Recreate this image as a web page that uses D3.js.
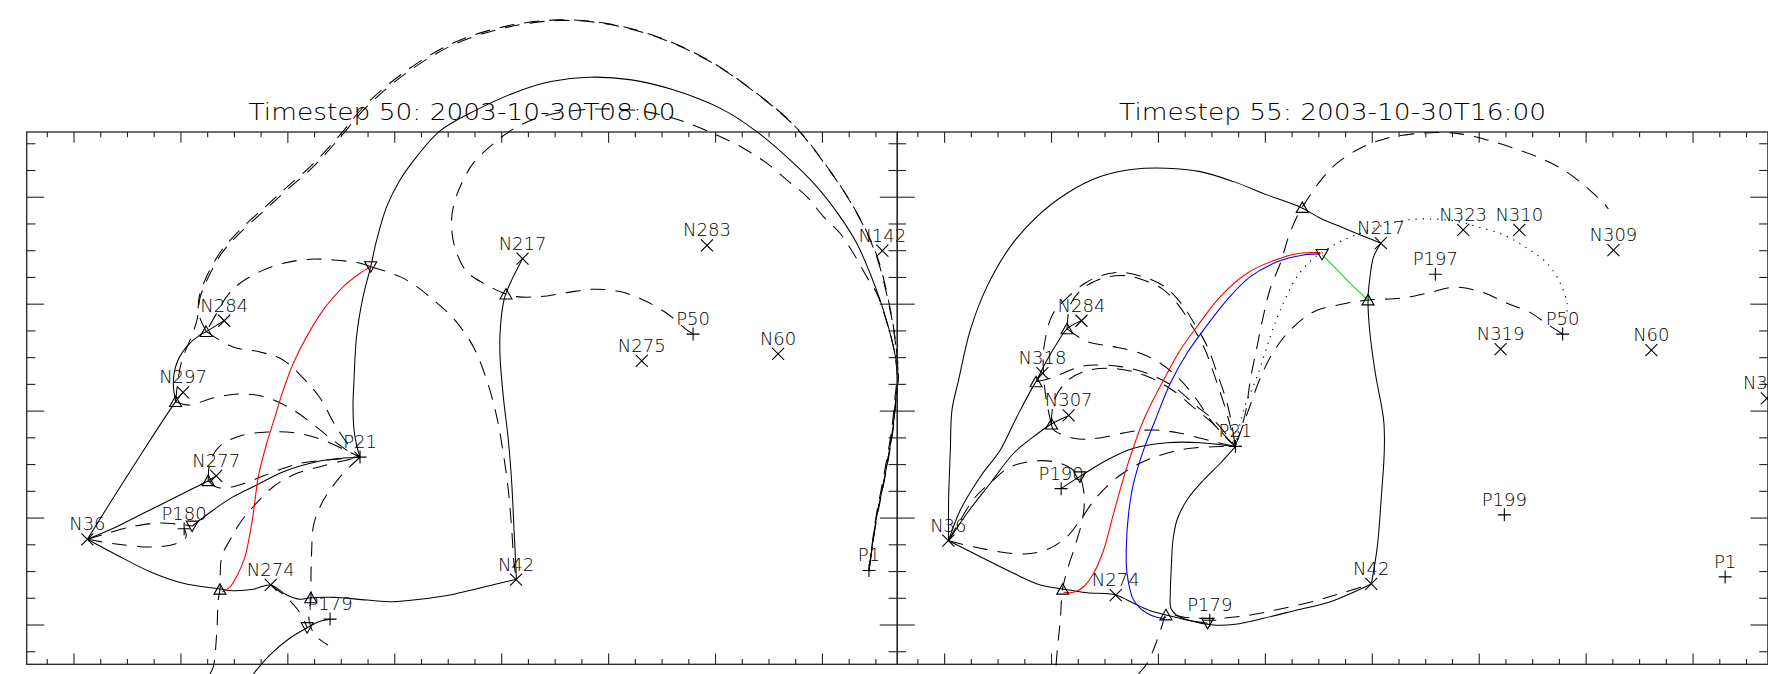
<!DOCTYPE html>
<html>
<head>
<meta charset="utf-8">
<script src="https://cdn.jsdelivr.net/npm/d3@7"></script>
<style>
  html, body { margin: 0; padding: 0; background: #fff; }
  svg { display: block; }
  text { font-family: "DejaVu Sans", "Liberation Sans", sans-serif; font-weight: 200; fill: #000; }
</style>
</head>
<body>
<svg id="chart" width="1768" height="674"></svg>
<script>
// ---- plot coordinates (Mm) ----
const xDomain = [-8.85, 154.0];
const yDomain = [-7.35, 92.2];
const xTickValues = d3.range(-5, 155, 5);
const yTickValues = d3.range(-5, 95, 5);

const titles = ["Timestep 50: 2003-10-30T08:00", "Timestep 55: 2003-10-30T16:00"];

// ---- timestep 50 ----
const sources50 = [
  ["N284", 28.1, 56.9], ["N297", 20.4, 43.5], ["N277", 26.6, 27.9], ["P180", 20.6, 18.0],
  ["N36", 2.5, 16.0], ["P21", 53.5, 31.4], ["N274", 36.8, 7.5], ["P179", 47.9, 1.1],
  ["N42", 82.7, 8.5], ["N217", 83.9, 68.5], ["N283", 118.4, 71.0], ["N142", 151.2, 70.0],
  ["P50", 115.8, 54.4], ["N275", 106.2, 49.4], ["N60", 131.7, 50.7], ["P1", 148.7, 10.2]
];
const nullsUp50 = [[24.7, 54.9], [19.0, 41.8], [25.1, 27.0], [27.3, 6.7], [44.3, 5.1], [80.8, 61.9]];
const nullsDown50 = [[22.1, 18.5], [43.6, -0.5], [55.5, 67.0]];

const lines50 = [
  { kind: "spine", pts: [[19.02,41.77],[19.45,45.83],[20.2,49.57],[21.7,53.31],[23.01,57.05],[23.57,61.17],[24.88,64.54],[27.68,69.59],[31.05,73.33],[35.73,77.63],[39.84,81.37],[44.71,85.67],[49.38,90.72],[54.75,96.95],[62.53,103.5],[70.9,108.49],[80.3,111.62],[90.29,113.04],[99.65,112.42],[109.62,109.75],[118.97,105.37],[126.77,100.08],[134.55,93.53],[140.8,85.73],[146.09,77.63],[150.02,69.21],[152.64,58.92],[153.58,53.31],[154.14,46.77],[153.76,42.71],[153.13,36.48],[151.52,27.12],[150.02,19.64],[148.71,10.16]] },
  { kind: "spine", pts: [[24.75,54.87],[23.38,57.99],[23.38,61.17],[24.6,64.72],[27.4,69.77],[30.77,73.61],[35.45,77.91],[39.56,81.65],[44.43,85.95],[49.2,91.0],[54.53,97.27],[62.38,103.82],[70.8,108.78],[80.25,111.86],[90.29,113.17],[99.65,112.5],[109.62,109.85],[118.97,105.45],[126.77,100.15],[134.55,93.6],[140.8,85.8],[146.09,77.7],[150.1,69.3],[152.7,59.0],[153.62,53.3],[154.2,46.77],[153.8,42.71],[153.2,36.48],[151.6,27.12],[150.1,19.64],[148.71,10.16]] },
  { kind: "separator", pts: [[53.5,31.37],[52.94,33.3],[52.38,36.48],[52.19,41.15],[52.38,45.83],[52.84,53.87],[54.06,61.36],[55.5,67.02],[56.62,72.02],[58.49,78.25],[60.98,83.24],[64.11,87.6],[68.46,92.41],[75.29,96.34],[82.79,99.7],[89.23,101.63],[96.52,102.45],[104.29,101.95],[112.1,100.08],[121.46,96.34],[127.7,92.28],[133.93,86.98],[138.93,81.99],[143.29,76.38],[146.41,71.4],[148.9,65.79],[150.77,60.79],[152.32,55.8],[153.39,51.44],[154.14,46.77],[153.76,42.71],[153.13,36.48],[151.52,27.12],[150.02,19.64],[148.71,10.16]] },
  { kind: "spine", pts: [[115.79,54.43],[114.61,55.18],[110.87,58.31],[106.49,60.79],[102.13,62.35],[97.14,62.8],[92.16,62.16],[87.17,61.41],[82.81,61.41],[80.75,61.92],[76.56,63.92],[73.46,66.09],[71.59,69.53],[70.65,73.89],[70.95,78.25],[72.52,82.62],[74.69,86.37],[77.82,89.47],[81.88,92.59],[86.55,94.78],[92.16,96.02],[98.39,96.52],[105.88,96.15],[112.1,94.78],[116.48,93.21],[120.84,91.34],[125.2,89.17],[129.58,86.37],[133.32,83.24],[137.06,80.12],[140.17,76.38],[143.29,73.27],[145.78,69.53],[148.28,65.15],[150.15,62.05],[151.89,57.05],[153.2,52.38],[153.95,46.77],[153.58,42.71],[152.93,36.48],[151.33,27.12],[149.92,19.64],[148.71,10.16]] },
  { kind: "separator", pts: [[83.86,68.46],[81.88,64.54],[80.75,61.92],[80.3,60.18],[79.69,54.57],[79.69,50.19],[80.3,42.71],[81.24,34.61],[81.88,26.51],[82.31,17.77],[82.68,10.29],[82.74,8.55]] },
  { kind: "spine", pts: [[55.5,67.02],[60.98,65.15],[64.11,63.28],[67.21,60.79],[69.72,58.61],[71.83,56.31],[74.69,52.06],[77.2,45.83],[79.07,38.96],[80.3,32.12],[81.24,25.25],[81.88,17.77],[82.31,11.54],[82.74,8.55]] },
  { kind: "spine", pts: [[55.5,67.02],[53.5,67.66],[48.5,68.28],[44.15,68.41],[39.15,67.66],[34.79,66.09],[31.05,63.92],[28.56,61.41],[26.69,58.31],[24.75,54.87]] },
  { kind: "separator", pts: [[2.49,16.03],[10.66,28.99],[19.02,41.77],[20.45,43.53]] },
  { kind: "separator", pts: [[19.02,41.77],[18.58,45.21],[19.21,48.95],[21.08,52.06],[23.57,54.25],[24.75,54.87],[28.06,56.92]] },
  { kind: "separator", pts: [[2.49,16.03],[7.99,18.39],[12.96,20.89],[17.96,23.38],[22.32,25.57],[25.12,26.99],[26.56,27.87]] },
  { kind: "separator", pts: [[22.13,18.52],[26.06,21.51],[29.8,24.0],[34.18,26.19],[39.15,28.68],[45.4,30.55],[49.76,31.15],[53.5,31.37]] },
  { kind: "spine", pts: [[2.49,16.03],[5.8,17.02],[10.48,18.33],[16.09,19.08],[22.13,18.52]] },
  { kind: "spine", pts: [[2.49,16.03],[7.86,15.15],[14.22,14.59],[18.89,15.15],[20.95,16.46],[20.63,17.96]] },
  { kind: "spine", pts: [[25.12,26.99],[25.44,30.49],[27.31,33.48],[31.05,35.35],[36.29,36.1],[41.34,35.92],[46.02,34.79],[50.69,32.74],[53.5,31.37]] },
  { kind: "spine", pts: [[25.12,26.99],[26.69,25.76],[29.8,25.87],[33.54,27.12],[37.92,28.86],[42.28,30.25],[47.27,30.86],[53.5,31.37]] },
  { kind: "spine", pts: [[24.75,54.87],[29.74,52.0],[34.79,51.07],[39.1,49.57],[42.84,46.2],[46.02,42.46],[48.82,37.41],[51.63,33.3],[53.5,31.37]] },
  { kind: "spine", pts: [[19.02,41.77],[21.59,41.15],[26.0,42.46],[31.05,43.21],[35.73,42.65],[40.4,40.59],[44.15,37.97],[47.89,34.98],[51.25,32.55],[53.5,31.37]] },
  { kind: "spine", pts: [[25.44,-9.17],[26.06,-7.8],[26.69,-1.55],[26.99,4.68],[27.31,6.73],[27.63,12.78],[29.18,15.9],[31.05,19.08],[33.48,22.07],[37.22,25.81],[40.97,28.06],[46.02,29.61],[51.07,30.86],[53.5,31.37]] },
  { kind: "spine", pts: [[53.5,31.37],[50.38,28.38],[47.89,25.25],[46.02,22.13],[44.76,18.39],[44.46,14.03],[44.33,9.35],[44.33,5.11],[43.96,0.94],[45.08,-1.87],[47.51,-3.74]] },
  { kind: "separator", pts: [[2.49,16.03],[7.99,13.09],[14.22,9.97],[20.45,7.8],[27.31,6.73],[29.8,6.42],[33.54,6.68],[36.79,7.48],[39.79,5.61],[42.28,4.81],[44.33,5.11],[48.5,5.18],[54.75,4.68],[59.73,4.36],[64.72,4.81],[70.33,5.61],[75.95,6.92],[82.74,8.55]] },
  { kind: "separator", pts: [[33.54,-9.17],[36.66,-5.61],[40.4,-2.43],[43.64,-0.5],[45.64,0.56],[47.89,1.07]] },
  { kind: "spine", pts: [[36.79,7.48],[39.47,5.42],[41.9,2.81],[43.64,-0.5]] },
  { kind: "primary", pts: [[27.68,6.17],[29.18,7.11],[30.73,9.67],[31.99,12.78],[32.92,17.15],[33.54,20.89],[34.48,27.74],[36.05,33.99],[37.41,38.35],[39.15,43.96],[41.02,48.95],[43.53,53.93],[46.63,58.92],[50.38,63.28],[53.5,65.79],[55.5,67.02]] }
];

// ---- timestep 55 ----
const sources55 = [
  ["N284", 25.6, 56.9], ["N318", 18.3, 47.1], ["N307", 23.2, 39.2], ["P190", 21.8, 25.5],
  ["N36", 0.7, 15.8], ["P21", 54.4, 33.4], ["N274", 32.0, 5.6], ["P179", 49.6, 0.9],
  ["N42", 79.8, 7.7], ["N217", 81.6, 71.4], ["N323", 97.0, 73.9], ["N310", 107.5, 73.9],
  ["N309", 125.1, 70.1], ["P197", 91.8, 65.6], ["P50", 115.6, 54.4], ["N319", 104.0, 51.6],
  ["N60", 132.2, 51.4], ["P199", 104.7, 20.6], ["P1", 146.0, 9.0], ["N311", 153.8, 42.4]
];
const nullsUp55 = [[22.9, 55.4], [17.1, 45.5], [20.0, 37.6], [22.1, 6.7], [41.4, 1.9], [79.2, 60.8], [66.9, 78.1]];
const nullsDown55 = [[25.3, 27.7], [49.2, 0.3], [70.6, 69.3]];

const lines55 = [
  { kind: "separator", pts: [[0.75,15.77],[0.75,23.38],[1.07,32.74],[1.38,40.22],[2.62,45.83],[4.81,55.18],[7.93,63.28],[12.29,70.77],[17.28,76.38],[22.9,80.75],[29.13,83.86],[35.35,85.24],[41.6,85.43],[47.83,84.79],[54.06,82.92],[60.31,80.44],[66.86,78.0],[70.28,76.08],[74.02,74.51],[77.76,72.95],[81.63,71.4]] },
  { kind: "separator", pts: [[81.63,71.4],[80.25,68.89],[79.5,64.54],[79.2,60.79],[79.5,55.18],[80.57,47.08],[82.12,38.35],[82.25,32.74],[81.69,24.0],[80.94,14.65],[79.82,7.67]] },
  { kind: "separator", pts: [[54.38,33.35],[51.57,30.25],[48.45,27.12],[45.34,23.38],[43.47,19.64],[42.72,15.9],[42.41,10.91],[42.22,5.93],[42.31,3.18],[43.34,1.87],[45.96,0.8],[50.26,0],[54.38,0.13],[59.67,1.25],[65.92,2.81],[72.15,4.36],[79.82,7.67]] },
  { kind: "separator", pts: [[0.75,15.77],[6.68,12.78],[12.91,9.67],[17.9,7.48],[22.07,6.73],[26.64,6.04],[31.99,5.61],[35.35,4.06],[38.48,2.67],[41.42,1.87],[45.34,0.94],[49.2,0.32]] },
  { kind: "separator", pts: [[21.77,25.5],[25.25,27.74],[30.38,30.86],[35.35,33.05],[41.6,34.1],[47.83,34.1],[54.38,33.35]] },
  { kind: "separator", pts: [[0.75,15.77],[4.19,20.89],[8.55,26.51],[12.91,32.12],[16.65,35.22],[19.96,37.6],[23.2,39.15]] },
  { kind: "separator", pts: [[0.75,15.77],[2.94,21.51],[6.68,27.74],[10.42,32.74],[13.41,38.72],[17.1,45.51],[18.33,47.08]] },
  { kind: "separator", pts: [[17.1,45.51],[19.16,49.57],[21.03,52.7],[22.9,55.37],[25.57,56.92]] },
  { kind: "fan", pts: [[54.38,33.35],[55.93,40.22],[58.44,46.45],[60.93,53.93],[62.8,58.92],[65.92,65.15],[69.02,68.6],[70.56,69.59],[73.4,71.4],[76.51,72.77],[81.13,74.45],[86.5,75.76],[92.11,75.89],[96.47,75.39],[99.59,74.51],[104.57,72.95],[108.94,70.47],[112.69,67.66],[115.17,63.92],[116.43,60.18],[116.29,57.43]] },
  { kind: "spine", pts: [[115.6,54.43],[112.93,56.12],[109.56,58.42],[105.2,60.18],[100.21,62.35],[95.21,63.17],[90.24,62.05],[85.24,61.11],[79.2,60.79],[74.02,59.95],[68.97,58.55],[64.67,55.18],[61.49,51.07],[59.05,46.2],[57.18,41.15],[55.5,36.48],[54.38,33.35]] },
  { kind: "spine", pts: [[54.38,33.35],[56.25,39.6],[57.18,45.83],[58.44,52.06],[59.67,57.99],[60.93,62.98],[62.8,67.66],[64.35,72.64],[65.92,76.38],[66.86,78.06],[70.28,83.05],[73.4,86.37],[77.76,89.17],[82.76,91.04],[87.73,91.85],[92.11,92.09],[96.47,91.85],[101.46,90.72],[106.44,89.17],[111.43,87.3],[115.79,85.11],[119.53,82.31],[123.27,78.88],[124.15,77.82]] },
  { kind: "spine", pts: [[36.23,-9.17],[37.92,-7.11],[39.41,-3.74],[40.72,0],[41.42,1.87],[45.03,1.4],[49.57,1.22],[55.31,1.59],[62.8,2.99],[70.28,4.77],[74.96,6.17],[79.82,7.67]] },
  { kind: "spine", pts: [[0.75,15.77],[2.94,19.64],[5.74,23.94],[8.55,26.56],[12.29,29.56],[16.97,30.68],[20.71,30.49],[23.51,29.37],[25.25,27.74],[26.13,23.94],[25.76,19.64],[24.45,14.96],[22.95,10.29],[22.07,6.73],[21.64,0.94],[21.08,-4.68],[20.71,-9.17]] },
  { kind: "spine", pts: [[0.75,15.77],[6.68,14.35],[14.78,13.28],[19.4,14.22],[22.9,16.52],[25.38,19.64],[28.51,24.0],[32.87,28.06],[37.86,30.86],[44.09,32.74],[50.32,33.35],[54.38,33.35]] },
  { kind: "spine", pts: [[19.96,37.6],[19.02,42.09],[18.46,47.7],[18.65,52.38],[20.15,57.99],[22.9,61.17],[26.32,63.97],[29.13,65.28],[32.87,65.94],[36.61,65.28],[40.97,63.41],[44.09,60.33],[46.58,56.59],[49.09,52.19],[50.96,47.14],[52.83,41.53],[53.82,36.85],[54.38,33.35]] },
  { kind: "spine", pts: [[22.9,55.37],[23.51,59.86],[25.76,62.85],[29.13,64.72],[32.87,65.38],[36.61,64.72],[40.72,62.85],[43.72,59.86],[46.15,56.12],[48.58,51.82],[50.45,46.77],[52.32,41.15],[53.63,36.48],[54.38,33.35]] },
  { kind: "spine", pts: [[22.9,55.37],[26.64,52.99],[31.61,52.06],[36.61,50.82],[40.35,48.95],[44.09,45.83],[47.21,42.09],[49.7,38.35],[52.51,35.17],[54.38,33.35]] },
  { kind: "spine", pts: [[17.1,45.51],[19.77,46.15],[25.38,48.32],[28.51,48.64],[32.87,48.32],[37.86,47.08],[42.84,44.58],[47.21,40.84],[50.32,38.35],[53.07,35.17],[54.38,33.35]] },
  { kind: "spine", pts: [[19.96,37.6],[20.52,42.09],[23.14,45.83],[27.25,47.7],[32.49,47.89],[37.73,46.58],[42.59,43.96],[46.9,40.41],[50.08,37.79],[54.38,33.35]] },
  { kind: "spine", pts: [[19.96,37.6],[20.39,36.48],[24.13,34.92],[28.51,34.92],[34.74,36.16],[39.1,36.48],[44.09,35.86],[50.32,34.29],[54.38,33.35]] },
  { kind: "primary", pts: [[22.26,6.12],[24.13,6.12],[26.0,7.16],[27.87,9.67],[29.74,14.03],[31.61,20.89],[34.12,29.61],[37.22,38.35],[40.97,45.83],[44.09,51.44],[47.21,55.8],[51.57,61.41],[56.57,65.79],[62.8,68.6],[66.54,69.53],[70.28,69.64]] },
  { kind: "secondary", pts: [[41.42,1.5],[40.97,1.25],[37.86,2.19],[35.35,4.68],[34.12,9.67],[33.99,14.65],[34.42,20.89],[35.35,26.51],[37.22,32.74],[39.41,38.35],[42.22,45.21],[45.34,50.82],[48.45,55.18],[52.83,60.79],[57.18,65.15],[62.8,68.15],[67.15,69.21],[70.28,69.4]] },
  { kind: "link", pts: [[70.65,69.21],[74.02,65.79],[76.51,63.28],[79.2,60.79]] }
];

// ---- drawing ----
const svg = d3.select("#chart");
const panelLeft = [26.7, 897.3];
const panelWidth = 870.6;
const plotTop = 132, plotBottom = 664.3;

const yScale = d3.scaleLinear().domain(yDomain).range([plotBottom, plotTop]);

const lineLook = {
  separator: { stroke: "#000", dash: null, width: 1.05 },
  spine:     { stroke: "#000", dash: "15,10", width: 1.05 },
  fan:       { stroke: "#000", dash: "1.2,6", width: 1.2 },
  primary:   { stroke: "#ff0000", dash: null, width: 1.1 },
  secondary: { stroke: "#0000ff", dash: null, width: 1.1 },
  link:      { stroke: "#00e600", dash: null, width: 1.1 }
};

function drawPanel(i, title, sources, up, down, lines) {
  const x = d3.scaleLinear().domain(xDomain).range([panelLeft[i], panelLeft[i] + panelWidth]);
  const y = yScale;
  const g = svg.append("g");
  const axisColor = "#222";

  // frame
  g.append("rect")
    .attr("x", x(xDomain[0])).attr("y", y(yDomain[1]))
    .attr("width", x(xDomain[1]) - x(xDomain[0]))
    .attr("height", y(yDomain[0]) - y(yDomain[1]))
    .attr("fill", "none").attr("stroke", axisColor).attr("stroke-width", 1.3);

  // ticks on all four sides
  const tg = g.append("g").attr("stroke", axisColor).attr("stroke-width", 1.1);
  xTickValues.forEach(v => {
    const len = v % 20 === 0 ? 10.7 : 5.3;
    const px = x(v);
    tg.append("line").attr("x1", px).attr("x2", px).attr("y1", y(yDomain[0])).attr("y2", y(yDomain[0]) - len);
    tg.append("line").attr("x1", px).attr("x2", px).attr("y1", y(yDomain[1])).attr("y2", y(yDomain[1]) + len);
  });
  yTickValues.forEach(v => {
    const len = v % 20 === 0 ? 17.5 : 8.7;
    const py = y(v);
    tg.append("line").attr("x1", x(xDomain[0])).attr("x2", x(xDomain[0]) + len).attr("y1", py).attr("y2", py);
    tg.append("line").attr("x1", x(xDomain[1])).attr("x2", x(xDomain[1]) - len).attr("y1", py).attr("y2", py);
  });

  // title
  g.append("text")
    .attr("x", (x(xDomain[0]) + x(xDomain[1])) / 2).attr("y", 120)
    .attr("text-anchor", "middle").attr("font-size", 23)
    .attr("textLength", 427).attr("lengthAdjust", "spacingAndGlyphs")
    .text(title);

  // field lines
  const gen = d3.line().x(d => x(d[0])).y(d => y(d[1])).curve(d3.curveCatmullRom.alpha(0.5));
  const lg = g.append("g").attr("fill", "none");
  lines.forEach(l => {
    const look = lineLook[l.kind];
    lg.append("path").attr("d", gen(l.pts))
      .attr("stroke", look.stroke).attr("stroke-width", look.width)
      .attr("stroke-dasharray", look.dash);
  });

  // null points
  const mg = g.append("g").attr("fill", "none").attr("stroke", "#000").attr("stroke-width", 1.1);
  up.forEach(d => {
    const cx = x(d[0]), cy = y(d[1]);
    mg.append("path").attr("d", `M${cx},${cy - 5.5}L${cx + 6},${cy + 5}L${cx - 6},${cy + 5}Z`);
  });
  down.forEach(d => {
    const cx = x(d[0]), cy = y(d[1]);
    mg.append("path").attr("d", `M${cx},${cy + 5.5}L${cx + 6},${cy - 5}L${cx - 6},${cy - 5}Z`);
  });

  // sources: X for negative, + for positive
  sources.forEach(s => {
    const cx = x(s[1]), cy = y(s[2]);
    if (s[0][0] === "N") {
      mg.append("path").attr("d", `M${cx - 6},${cy - 6}L${cx + 6},${cy + 6}M${cx - 6},${cy + 6}L${cx + 6},${cy - 6}`);
    } else {
      mg.append("path").attr("d", `M${cx - 6.5},${cy}L${cx + 6.5},${cy}M${cx},${cy - 6.5}L${cx},${cy + 6.5}`);
    }
    g.append("text").attr("x", cx).attr("y", cy - 9)
      .attr("text-anchor", "middle").attr("font-size", 18).text(s[0]);
  });
}

drawPanel(0, titles[0], sources50, nullsUp50, nullsDown50, lines50);
drawPanel(1, titles[1], sources55, nullsUp55, nullsDown55, lines55);
</script>
</body>
</html>
